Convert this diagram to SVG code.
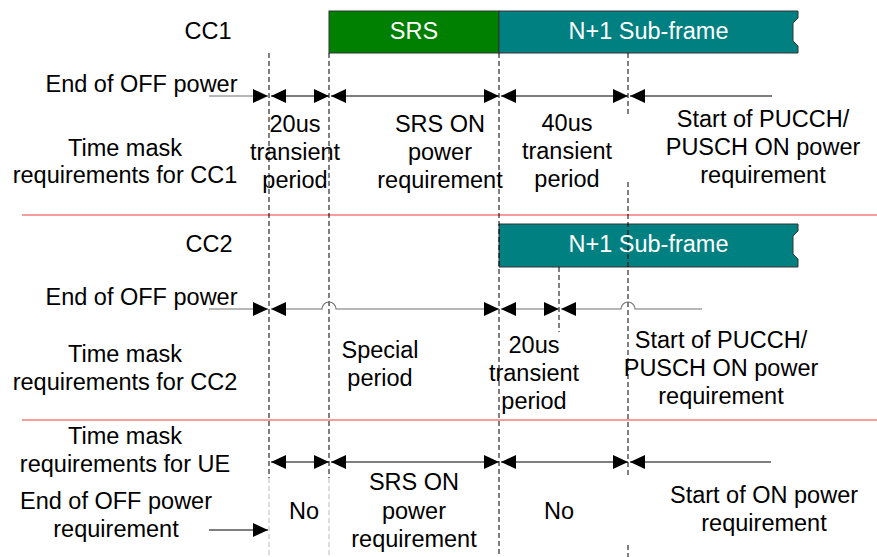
<svg xmlns="http://www.w3.org/2000/svg" width="877" height="557" viewBox="0 0 877 557">
  <style>
    text { font-family: "Liberation Sans", Arial, sans-serif; font-size: 23.5px; fill: #000; text-anchor: middle; }
    .inbar { fill: #fff; }
    .bar { stroke: #333; stroke-width: 1; }
    .srs { fill: #008000; }
    .sub { fill: #008080; }
    .sep { stroke: #f47c7c; stroke-width: 1.5; fill: none; }
    .guide { stroke: #000; stroke-width: 1; stroke-dasharray: 5 3; fill: none; }
    .guide-faint { stroke: #bbb; stroke-width: 1; stroke-dasharray: 5 3; fill: none; }
    .span { stroke: #000; stroke-width: 1.2; fill: none; }
    .span-grey { stroke: #707070; stroke-width: 1.2; fill: none; }
    .both { marker-start: url(#ah); marker-end: url(#ah); }
    .head { marker-end: url(#ah); }
    .tail { marker-start: url(#ah); }
  </style>
  <defs>
    <marker id="ah" viewBox="0 0 15 14" refX="15" refY="7" markerWidth="15" markerHeight="14" markerUnits="userSpaceOnUse" orient="auto-start-reverse">
      <path d="M0,0 L15,7 L0,14 Z" fill="#000"/>
    </marker>
  </defs>

  <rect width="877" height="557" fill="#fff"/>

  <!-- section separators -->
  <g id="separators">
    <line class="sep" x1="22" y1="215" x2="877" y2="215"/>
    <line class="sep" x1="22" y1="420" x2="877" y2="420"/>
  </g>

  <!-- CC1 sub-frames -->
  <g id="cc1-srs">
    <rect class="bar srs" x="329" y="11" width="170" height="42"/>
    <text class="inbar" x="414" y="39">SRS</text>
  </g>
  <g id="cc1-next">
    <path class="bar sub" d="M499,11 H798 V18 L793,23 V41 L798,46 V53 H499 Z"/>
    <text class="inbar" x="648.5" y="39">N+1 Sub-frame</text>
  </g>

  <!-- CC2 sub-frame -->
  <g id="cc2-next">
    <path class="bar sub" d="M499,224 H798 V231 L793,236 V254 L798,259 V267 H499 Z"/>
    <text class="inbar" x="648.5" y="252">N+1 Sub-frame</text>
  </g>

  <!-- time boundaries -->
  <g id="boundaries">
    <line class="guide" x1="269" y1="53" x2="269" y2="478"/>
    <line class="guide-faint" x1="269" y1="478" x2="269" y2="557"/>
    <line class="guide" x1="329" y1="53" x2="329" y2="478"/>
    <line class="guide-faint" x1="329" y1="478" x2="329" y2="557"/>
    <line class="guide" x1="499" y1="53" x2="499" y2="557"/>
    <line class="guide" x1="628" y1="53" x2="628" y2="117"/>
    <line class="guide" x1="628" y1="182" x2="628" y2="478"/>
    <line class="guide" x1="628" y1="545" x2="628" y2="557"/>
    <line class="guide" x1="559" y1="267" x2="559" y2="332"/>
  </g>

  <!-- interval arrows -->
  <g id="connectors">
    <!-- CC1 -->
    <path class="span-grey head" d="M209,96 H268"/>
    <path class="span both" d="M271,96 H329"/>
    <path class="span both" d="M331,96 H499"/>
    <path class="span both" d="M501,96 H628"/>
    <path class="span tail" d="M630,96 H772"/>
    <!-- CC2 -->
    <path class="span-grey head" d="M209,309 H268"/>
    <path class="span-grey both" d="M271,309 H322 A7,7 0 0 1 336,309 H499"/>
    <path class="span-grey both" d="M501,309 H559"/>
    <path class="span-grey tail" d="M561,309 H621 A7,7 0 0 1 635,309 H702"/>
    <!-- UE -->
    <path class="span both" d="M271,462 H329"/>
    <path class="span both" d="M331,462 H499"/>
    <path class="span both" d="M501,462 H628"/>
    <path class="span tail" d="M630,462 H771"/>
    <path class="span head" d="M209,530 H268"/>
  </g>

  <!-- row captions -->
  <g id="cc1-labels">
    <text x="208" y="39">CC1</text>
    <text x="141.5" y="92">End of OFF power</text>
    <text x="125" y="156">Time mask</text>
    <text x="125" y="183">requirements for CC1</text>
  </g>
  <g id="cc2-labels">
    <text x="209" y="252">CC2</text>
    <text x="141.5" y="305">End of OFF power</text>
    <text x="125" y="362">Time mask</text>
    <text x="125" y="390">requirements for CC2</text>
  </g>
  <g id="ue-labels">
    <text x="125" y="444">Time mask</text>
    <text x="125" y="472">requirements for UE</text>
    <text x="116" y="509">End of OFF power</text>
    <text x="116" y="537">requirement</text>
  </g>

  <!-- CC1 intervals -->
  <g id="cc1-transient20">
    <text x="295" y="132">20us</text>
    <text x="295" y="160">transient</text>
    <text x="295" y="188">period</text>
  </g>
  <g id="cc1-srs-on">
    <text x="440" y="132">SRS ON</text>
    <text x="440" y="160">power</text>
    <text x="440" y="188">requirement</text>
  </g>
  <g id="cc1-transient40">
    <text x="567" y="131">40us</text>
    <text x="567" y="159">transient</text>
    <text x="567" y="187">period</text>
  </g>
  <g id="cc1-on">
    <text x="763" y="127">Start of PUCCH/</text>
    <text x="763" y="155">PUSCH ON power</text>
    <text x="763" y="183">requirement</text>
  </g>

  <!-- CC2 intervals -->
  <g id="cc2-special">
    <text x="380" y="358">Special</text>
    <text x="380" y="386">period</text>
  </g>
  <g id="cc2-transient20">
    <text x="534" y="353">20us</text>
    <text x="534" y="381">transient</text>
    <text x="534" y="409">period</text>
  </g>
  <g id="cc2-on">
    <text x="721" y="348">Start of PUCCH/</text>
    <text x="721" y="376">PUSCH ON power</text>
    <text x="721" y="404">requirement</text>
  </g>

  <!-- UE intervals -->
  <g id="ue-no1">
    <text x="304" y="519">No</text>
  </g>
  <g id="ue-srs-on">
    <text x="414" y="490">SRS ON</text>
    <text x="414" y="519">power</text>
    <text x="414" y="547">requirement</text>
  </g>
  <g id="ue-no2">
    <text x="559" y="519">No</text>
  </g>
  <g id="ue-on">
    <text x="764" y="503">Start of ON power</text>
    <text x="764" y="531">requirement</text>
  </g>
</svg>
